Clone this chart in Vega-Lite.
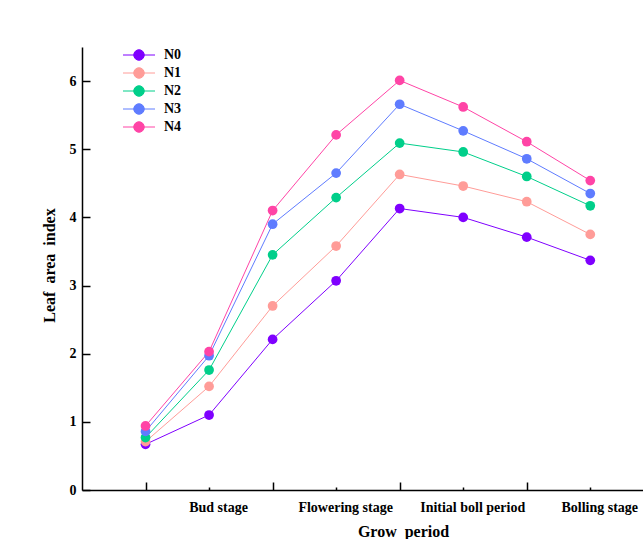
{
  "$schema": "https://vega.github.io/schema/vega-lite/v6.json",
  "width": 561,
  "height": 443,
  "autosize": {"type": "none"},
  "padding": {"left": 82, "top": 47, "right": 0, "bottom": 49},
  "background": "white",
  "config": {
    "view": {"stroke": null},
    "font": "Liberation Serif",
    "axis": {"grid": false, "domainColor": "black", "tickColor": "black", "domainWidth": 1.5, "tickWidth": 1.5, "labelColor": "black", "titleColor": "black", "labelFont": "Liberation Serif", "titleFont": "Liberation Serif", "labelFontWeight": "bold", "titleFontWeight": "bold", "labelFontSize": 14, "titleFontSize": 16}
  },
  "data": {
    "values": [
      {"period": 1, "series": "N0", "lai": 0.67}, {"period": 2, "series": "N0", "lai": 1.10}, {"period": 3, "series": "N0", "lai": 2.21}, {"period": 4, "series": "N0", "lai": 3.07}, {"period": 5, "series": "N0", "lai": 4.13}, {"period": 6, "series": "N0", "lai": 4.00}, {"period": 7, "series": "N0", "lai": 3.71}, {"period": 8, "series": "N0", "lai": 3.37},
      {"period": 1, "series": "N1", "lai": 0.71}, {"period": 2, "series": "N1", "lai": 1.52}, {"period": 3, "series": "N1", "lai": 2.70}, {"period": 4, "series": "N1", "lai": 3.58}, {"period": 5, "series": "N1", "lai": 4.63}, {"period": 6, "series": "N1", "lai": 4.46}, {"period": 7, "series": "N1", "lai": 4.23}, {"period": 8, "series": "N1", "lai": 3.75},
      {"period": 1, "series": "N2", "lai": 0.77}, {"period": 2, "series": "N2", "lai": 1.76}, {"period": 3, "series": "N2", "lai": 3.45}, {"period": 4, "series": "N2", "lai": 4.29}, {"period": 5, "series": "N2", "lai": 5.09}, {"period": 6, "series": "N2", "lai": 4.96}, {"period": 7, "series": "N2", "lai": 4.60}, {"period": 8, "series": "N2", "lai": 4.17},
      {"period": 1, "series": "N3", "lai": 0.86}, {"period": 2, "series": "N3", "lai": 1.97}, {"period": 3, "series": "N3", "lai": 3.90}, {"period": 4, "series": "N3", "lai": 4.65}, {"period": 5, "series": "N3", "lai": 5.66}, {"period": 6, "series": "N3", "lai": 5.27}, {"period": 7, "series": "N3", "lai": 4.86}, {"period": 8, "series": "N3", "lai": 4.35},
      {"period": 1, "series": "N4", "lai": 0.94}, {"period": 2, "series": "N4", "lai": 2.03}, {"period": 3, "series": "N4", "lai": 4.10}, {"period": 4, "series": "N4", "lai": 5.21}, {"period": 5, "series": "N4", "lai": 6.01}, {"period": 6, "series": "N4", "lai": 5.62}, {"period": 7, "series": "N4", "lai": 5.11}, {"period": 8, "series": "N4", "lai": 4.54}
    ]
  },
  "layer": [
    {
      "mark": {"type": "line", "strokeWidth": 1, "clip": false},
      "encoding": {
        "x": {
          "field": "period", "type": "quantitative",
          "scale": {"domain": [0, 8.83], "nice": false, "zero": false},
          "axis": {"orient": "bottom", "values": [1, 3, 5, 7], "tickSize": -8, "labels": false, "title": "Grow\u00a0\u00a0period", "titleX": 321, "titleY": 46, "titleBaseline": "alphabetic", "titleAlign": "center"}
        },
        "y": {
          "field": "lai", "type": "quantitative",
          "scale": {"domain": [0, 6.5], "nice": false},
          "axis": {"values": [0, 1, 2, 3, 4, 5, 6], "format": "d", "tickSize": -8, "labelPadding": 14, "title": "Leaf\u00a0\u00a0area\u00a0\u00a0index", "titleX": -33, "titleY": 218, "titleAngle": -90, "titleBaseline": "middle", "titleAlign": "center"}
        },
        "color": {
          "field": "series", "type": "nominal",
          "scale": {"domain": ["N0", "N1", "N2", "N3", "N4"], "range": ["#7F00FF", "#FF9C98", "#00CF8A", "#5F7CFF", "#FF44A6"]},
          "legend": {
            "orient": "none", "legendX": 50, "legendY": 1, "title": null, "padding": 0,
            "symbolType": "M -3.2 0 L 3.2 0 M -1.05 0 A 1.05 1.05 0 1 1 1.05 0 A 1.05 1.05 0 1 1 -1.05 0 Z",
            "symbolSize": 100, "symbolStrokeWidth": 1, "symbolOpacity": 1,
            "labelFont": "Liberation Serif", "labelFontSize": 14, "labelFontWeight": "bold", "labelColor": "black", "labelOffset": 18,
            "encode": {"symbols": {"update": {"fill": {"scale": "color", "field": "value"}, "stroke": {"scale": "color", "field": "value"}}}}
          }
        }
      }
    },
    {
      "mark": {"type": "point", "filled": true, "size": 95, "opacity": 1, "clip": false},
      "encoding": {
        "x": {
          "field": "period", "type": "quantitative",
          "axis": {"orient": "bottom", "values": [2, 4, 6, 8], "tickSize": -3, "labelPadding": 13.5, "labelOffset": 9, "labelExpr": "datum.value == 2 ? 'Bud stage' : datum.value == 4 ? 'Flowering stage' : datum.value == 6 ? 'Initial boll period' : 'Bolling stage'", "title": null, "domain": false}
        },
        "y": {"field": "lai", "type": "quantitative"},
        "color": {"field": "series", "type": "nominal"}
      }
    }
  ],
  "resolve": {"axis": {"x": "independent"}}
}
